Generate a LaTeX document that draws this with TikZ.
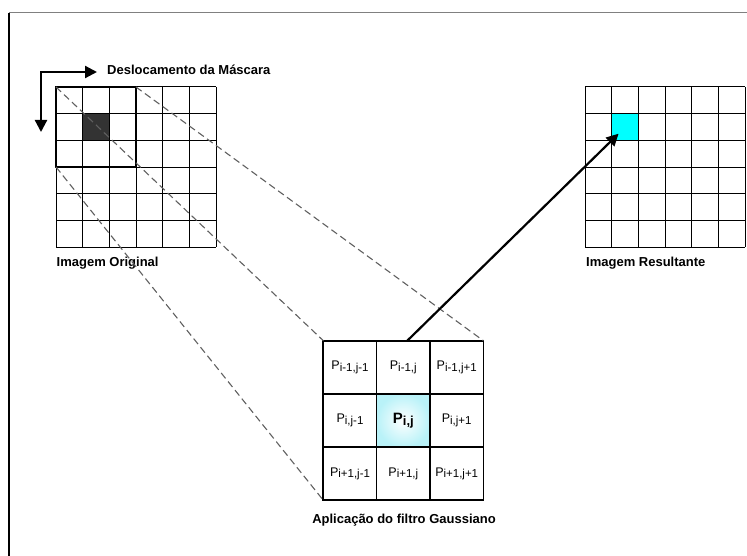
\documentclass[tikz,border=0pt]{standalone}
\usepackage{fontspec}
\setmainfont{Liberation Sans}
\usetikzlibrary{arrows.meta,positioning}

\definecolor{ciano}{RGB}{0,255,255}
\definecolor{cianoclaro}{RGB}{185,242,248}

% P com indice rebaixado
\newcommand{\pval}[1]{P\raisebox{-1.5pt}{\fontsize{11.5}{12}\selectfont #1}}

\begin{document}
\begin{tikzpicture}[
    x=1pt, y=-1pt,
    >={Triangle[length=12pt,width=12pt]},
    font=\fontsize{12.5}{14}\selectfont,
    lbl/.style={font=\fontsize{13}{15}\selectfont\bfseries, inner sep=0pt, anchor=base west},
    cel/.style={draw, line width=1.7pt, fill=white, minimum width=53.33pt, minimum height=53.2pt, inner sep=0pt, outer sep=0pt},
    pix/.style={minimum size=26.67pt, inner sep=0pt, outer sep=0pt},
    linha/.style={line width=1pt, draw=black},
    proj/.style={draw=gray!75!black, line width=1.1pt, dash pattern=on 7pt off 4pt},
    seta/.style={->, line width=2.2pt}
]
\useasboundingbox (0,0) rectangle (747,556);

% moldura
\draw[line width=1.2pt, gray] (9,12.7) -- (747,12.7);
\draw[line width=1.2pt] (9,12.7) -- (9,556);

% pixels marcados
\node[pix, fill=black!80] (pixel) at (96.7,126.7) {};
\node[pix, fill=ciano]    (alvo)  at (625.7,126.7) {};

% grades 6x6
\foreach \k in {0,...,6} {
    \draw[linha] (56+26.67*\k,87) -- (56+26.67*\k,247);
    \draw[linha] (56,87+26.67*\k) -- (216,87+26.67*\k);
    \draw[linha] (585.3+26.67*\k,87) -- (585.3+26.67*\k,247);
    \draw[linha] (585.3,87+26.67*\k) -- (745.3,87+26.67*\k);
}

% mascara 3x3
\node[draw, line width=2.2pt, minimum size=80pt, inner sep=0pt, outer sep=0pt] (mascara) at (96,127) {};

% deslocamento
\node[lbl] (desloc) at (107,74.5) {Deslocamento da Máscara};
\coordinate (dir)   at (97,72);
\coordinate (baixo) at (41,132);
\draw[<->, line width=2.2pt] (baixo) |- (dir);

% legendas
\node[lbl] (orig) at (56.5,266) {Imagem Original};
\node[lbl] (res)  at (586,266) {Imagem Resultante};

% celulas do filtro
\node[cel] (p11) at (350,367.3) {\pval{i-1,j-1}};
\node[cel] (p12) at (403.3,367.3) {\pval{i-1,j}};
\node[cel] (p13) at (456.7,367.3) {\pval{i-1,j+1}};
\node[cel] (p21) at (350,420.5) {\pval{i,j-1}};
\node[cel, inner color=white, outer color=cianoclaro] (p22) at (403.3,420.5)
    {\fontsize{15}{17}\selectfont\bfseries P\raisebox{-1.5pt}{\fontsize{13}{14}\selectfont i,j}};
\node[cel] (p23) at (456.7,420.5) {\pval{i,j+1}};
\node[cel] (p31) at (350,473.7) {\pval{i+1,j-1}};
\node[cel] (p32) at (403.3,473.7) {\pval{i+1,j}};
\node[cel] (p33) at (456.7,473.7) {\pval{i+1,j+1}};

\node[lbl, anchor=base] (aplic) at (404,523) {Aplicação do filtro Gaussiano};

% projecao da mascara
\draw[proj] (mascara.north west) -- (p11.north west);
\draw[proj] (mascara.north east) -- (p13.north east);
\draw[proj] (mascara.south west) -- (p31.south west);

% resultado
\draw[seta, shorten >=10pt] ([xshift=4pt]p12.north) -- (alvo.center);

\end{tikzpicture}
\end{document}
